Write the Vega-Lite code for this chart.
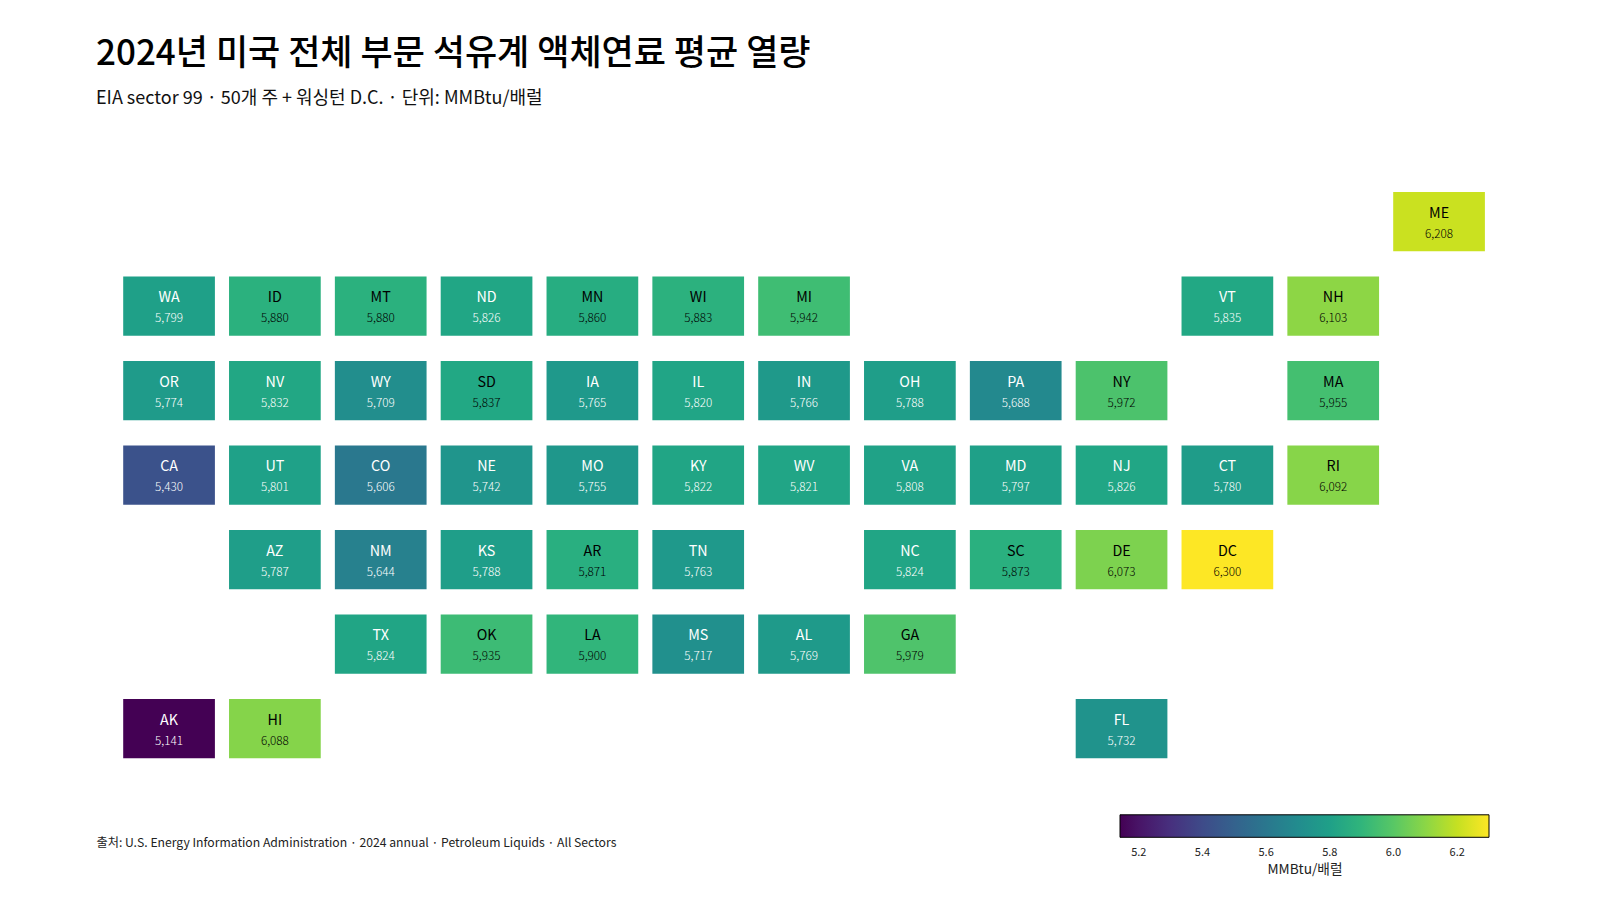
{"$schema":"https://vega.github.io/schema/vega-lite/v6.json","width":1361.7,"height":566.3,"autosize":{"type":"none"},"padding":{"left":123.2,"top":192,"right":115.1,"bottom":141.7},"background":"white","config":{"view":{"stroke":null},"font":"Noto Sans CJK KR"},"title":{"text":"2024년 미국 전체 부문 석유계 액체연료 평균 열량","subtitle":"EIA sector 99 · 50개 주 + 워싱턴 D.C. · 단위: MMBtu/배럴","anchor":"start","frame":"group","dx":-27.2,"offset":84.2,"font":"Noto Sans CJK KR","fontSize":35,"fontWeight":500,"color":"#000000","subtitleFont":"Noto Sans CJK KR","subtitleFontSize":18,"subtitleFontWeight":400,"subtitleColor":"#111111","subtitlePadding":18},"data":{"values":[{"state":"ME","col":12,"row":0,"value":6208},{"state":"WA","col":0,"row":1,"value":5799},{"state":"ID","col":1,"row":1,"value":5880},{"state":"MT","col":2,"row":1,"value":5880},{"state":"ND","col":3,"row":1,"value":5826},{"state":"MN","col":4,"row":1,"value":5860},{"state":"WI","col":5,"row":1,"value":5883},{"state":"MI","col":6,"row":1,"value":5942},{"state":"VT","col":10,"row":1,"value":5835},{"state":"NH","col":11,"row":1,"value":6103},{"state":"OR","col":0,"row":2,"value":5774},{"state":"NV","col":1,"row":2,"value":5832},{"state":"WY","col":2,"row":2,"value":5709},{"state":"SD","col":3,"row":2,"value":5837},{"state":"IA","col":4,"row":2,"value":5765},{"state":"IL","col":5,"row":2,"value":5820},{"state":"IN","col":6,"row":2,"value":5766},{"state":"OH","col":7,"row":2,"value":5788},{"state":"PA","col":8,"row":2,"value":5688},{"state":"NY","col":9,"row":2,"value":5972},{"state":"MA","col":11,"row":2,"value":5955},{"state":"CA","col":0,"row":3,"value":5430},{"state":"UT","col":1,"row":3,"value":5801},{"state":"CO","col":2,"row":3,"value":5606},{"state":"NE","col":3,"row":3,"value":5742},{"state":"MO","col":4,"row":3,"value":5755},{"state":"KY","col":5,"row":3,"value":5822},{"state":"WV","col":6,"row":3,"value":5821},{"state":"VA","col":7,"row":3,"value":5808},{"state":"MD","col":8,"row":3,"value":5797},{"state":"NJ","col":9,"row":3,"value":5826},{"state":"CT","col":10,"row":3,"value":5780},{"state":"RI","col":11,"row":3,"value":6092},{"state":"AZ","col":1,"row":4,"value":5787},{"state":"NM","col":2,"row":4,"value":5644},{"state":"KS","col":3,"row":4,"value":5788},{"state":"AR","col":4,"row":4,"value":5871},{"state":"TN","col":5,"row":4,"value":5763},{"state":"NC","col":7,"row":4,"value":5824},{"state":"SC","col":8,"row":4,"value":5873},{"state":"DE","col":9,"row":4,"value":6073},{"state":"DC","col":10,"row":4,"value":6300},{"state":"TX","col":2,"row":5,"value":5824},{"state":"OK","col":3,"row":5,"value":5935},{"state":"LA","col":4,"row":5,"value":5900},{"state":"MS","col":5,"row":5,"value":5717},{"state":"AL","col":6,"row":5,"value":5769},{"state":"GA","col":7,"row":5,"value":5979},{"state":"AK","col":0,"row":6,"value":5141},{"state":"HI","col":1,"row":6,"value":6088},{"state":"FL","col":9,"row":6,"value":5732}]},"encoding":{"x":{"field":"col","type":"ordinal","scale":{"domain":[0,1,2,3,4,5,6,7,8,9,10,11,12],"paddingInner":0.1335,"paddingOuter":0},"axis":{"title":"출처: U.S. Energy Information Administration · 2024 annual · Petroleum Liquids · All Sectors","domain":false,"ticks":false,"labels":false,"grid":false,"titleAnchor":"start","titleAlign":"left","titleBaseline":"middle","titleX":-27.2,"titleY":83.8,"titleFontSize":12.2,"titleFontWeight":400,"titleColor":"#222222"}},"y":{"field":"row","type":"ordinal","scale":{"domain":[0,1,2,3,4,5,6],"paddingInner":0.2994,"paddingOuter":0},"axis":null}},"layer":[{"mark":{"type":"rect"},"encoding":{"color":{"field":"value","type":"quantitative","scale":{"scheme":"viridis","domain":[5141,6300]},"legend":{"orient":"none","direction":"horizontal","legendX":996.8,"legendY":622.8,"padding":0,"gradientLength":369,"gradientThickness":22.5,"gradientStrokeColor":"#000000","gradientStrokeWidth":1,"values":[5200,5400,5600,5800,6000,6200],"labelExpr":"format(datum.value/1000,'.1f')","labelFontSize":11,"labelColor":"#222222","labelOffset":10,"title":"MMBtu/배럴","titleOrient":"bottom","titleAnchor":"middle","titleFontSize":13.7,"titleFontWeight":400,"titleColor":"#222222","titlePadding":4}}}},{"mark":{"type":"text","dy":-8,"fontSize":14.3,"fontWeight":400},"encoding":{"text":{"field":"state","type":"nominal"},"color":{"condition":{"test":"datum.value >= 5836","value":"#000000"},"value":"#ffffff"}}},{"mark":{"type":"text","dy":12.2,"fontSize":11.7,"fontWeight":300},"encoding":{"text":{"field":"value","type":"quantitative","format":","},"color":{"condition":{"test":"datum.value >= 5836","value":"#000000"},"value":"#ffffff"}}}]}
